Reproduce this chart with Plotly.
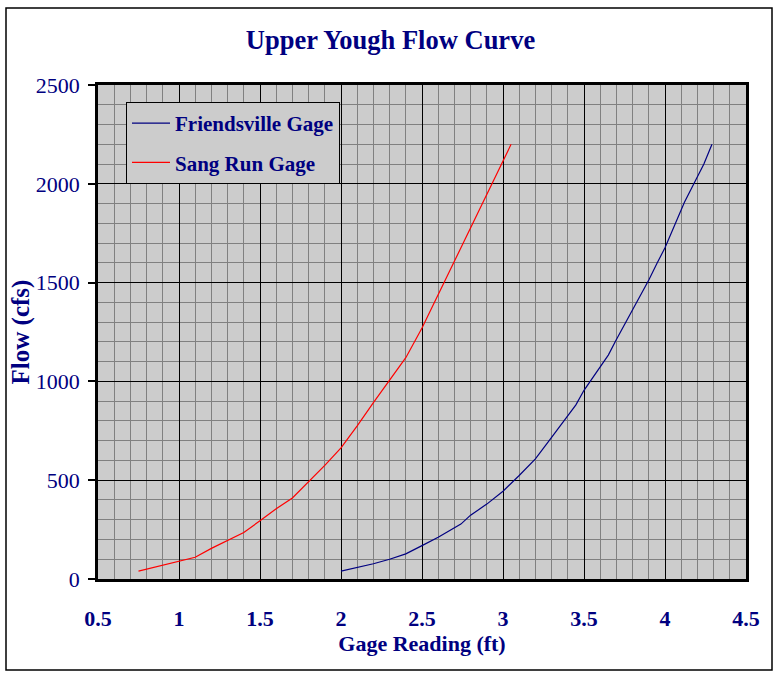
import plotly.graph_objects as go

# Sang Run Gage (red)
sang_gage = [0.75, 0.8, 0.9, 1.0, 1.1, 1.2, 1.3, 1.4, 1.5, 1.6, 1.7, 1.8, 1.9,
             2.0, 2.1, 2.2, 2.3, 2.4, 2.5, 2.6, 2.7, 2.8, 2.9, 3.0, 3.05]
sang_flow = [40, 50, 70, 90, 110, 155, 195, 235, 295, 355, 410, 490, 575,
             664, 775, 893, 1005, 1120, 1270, 1438, 1605, 1773, 1945, 2117, 2200]

# Friendsville Gage (navy)
fr_gage = [2.0, 2.1, 2.2, 2.3, 2.4, 2.5, 2.6, 2.74, 2.8, 2.9, 3.0, 3.1, 3.2, 3.3,
           3.45, 3.5, 3.65, 3.7, 3.8, 3.9, 3.95, 4.0, 4.12, 4.2, 4.24, 4.29]
fr_flow = [40, 58, 77, 100, 127, 169, 211, 278, 323, 379, 444, 524, 608, 717,
           881, 955, 1133, 1212, 1362, 1513, 1597, 1676, 1907, 2033, 2100, 2200]

title_text = "Upper Yough Flow Curve"
x_title = "Gage Reading (ft)"
y_title = "Flow (cfs)"

NAVY = "#000080"
FONT = "Liberation Serif"
BG = "#CCCCCC"

fig = go.Figure()
fig.add_trace(go.Scatter(x=fr_gage, y=fr_flow, mode="lines", name="Friendsville Gage",
                         line=dict(color=NAVY, width=1.2), legendgroup="a"))
fig.add_trace(go.Scatter(x=sang_gage, y=sang_flow, mode="lines", name="Sang Run Gage",
                         line=dict(color="#FF0000", width=1.2), legendgroup="b"))

L, R, T, B = 98, 35, 85, 101
W, H = 781, 680
pw, ph = W - L - R, H - T - B

def px_x(p):
    return (p - L) / pw

def px_y(p):
    return (H - B - p) / ph

fig.update_layout(
    width=W, height=H, autosize=False,
    margin=dict(l=L, r=R, t=T, b=B, pad=0),
    paper_bgcolor="white", plot_bgcolor=BG,
    font=dict(family=FONT, color=NAVY),
    title=dict(text="<b>%s</b>" % title_text, x=0.5, xanchor="center",
               y=1 - 40 / H, yanchor="middle", font=dict(size=26.5, color=NAVY, family=FONT)),
    showlegend=True,
    legend=dict(x=px_x(126), y=px_y(102), xanchor="left", yanchor="top",
                bgcolor=BG, bordercolor="black", borderwidth=1,
                font=dict(size=21, color=NAVY, family=FONT, weight="bold"),
                tracegroupgap=9, itemwidth=38),
    shapes=[dict(type="rect", xref="paper", yref="paper",
                 x0=px_x(6), x1=px_x(772), y0=px_y(670), y1=px_y(8),
                 line=dict(color="black", width=1.5), layer="below")],
)

fig.update_xaxes(
    range=[0.5, 4.5], dtick=0.5, tick0=0.5, showgrid=True, gridcolor="black", gridwidth=1,
    minor=dict(dtick=0.1, tick0=0.5, showgrid=True, gridcolor="#808080", gridwidth=1),
    showline=True, linecolor="black", linewidth=2.5, mirror=True, zeroline=False,
    ticks="", ticklabelstandoff=18,
    tickfont=dict(size=22, family=FONT, color=NAVY, weight="bold"),
    title=dict(text="<b>%s</b>" % x_title, font=dict(size=22, family=FONT, color=NAVY), standoff=0),
)
fig.update_yaxes(
    range=[0, 2500], dtick=500, tick0=0, showgrid=True, gridcolor="black", gridwidth=1,
    minor=dict(dtick=100, tick0=0, showgrid=True, gridcolor="#808080", gridwidth=1),
    showline=True, linecolor="black", linewidth=2.5, mirror=True, zeroline=False,
    ticks="outside", ticklen=7, tickcolor="black", tickwidth=1.5, ticklabelstandoff=4,
    tickfont=dict(size=22, family=FONT, color=NAVY),
    title=dict(text="<b>%s</b>" % y_title, font=dict(size=25, family=FONT, color=NAVY), standoff=0),
)

fig.write_html("out.html", config={"displayModeBar": False},
               post_script="document.body.style.margin='0';")
